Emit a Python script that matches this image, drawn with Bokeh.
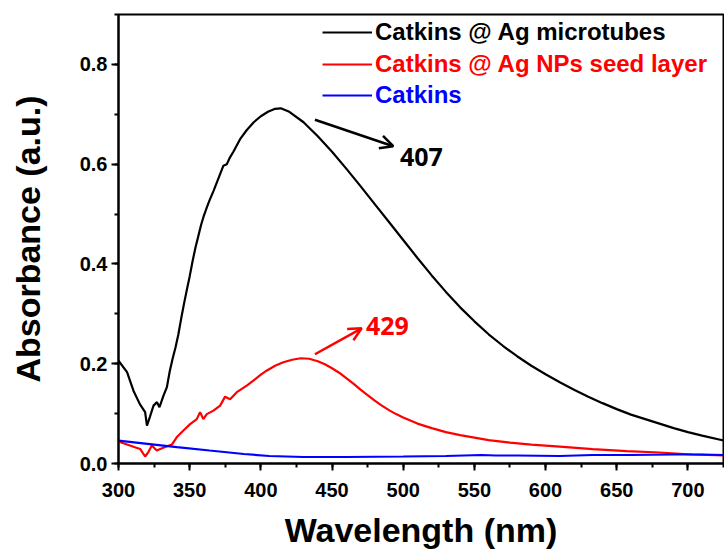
from bokeh.plotting import figure
from bokeh.models import (Range1d, SingleIntervalTicker, PrintfTickFormatter, Legend,
                          LegendItem, Arrow, OpenHead, ColumnDataSource)
from bokeh.core.properties import value
from bokeh.embed import file_html
from bokeh.resources import INLINE

# ---- data ----
wl_black = [300, 306, 310.5, 315, 318.7, 320, 322, 324.6, 327, 328.8, 331.6, 334, 336, 338,
            340, 342, 344, 346, 348, 350, 352, 354, 356, 358, 360, 362, 364, 366.7, 370, 373.7,
            376.1, 378, 380.7, 385.4, 390, 395, 400, 405, 410, 414, 420, 430, 440, 450, 460, 470,
            480, 490, 500, 510, 520, 530, 540, 550, 560, 570, 580, 590, 600, 610, 620, 630, 640,
            650, 660, 670, 680, 690, 700, 710, 725]
abs_black = [0.206, 0.183, 0.146, 0.119, 0.103, 0.076, 0.093, 0.116, 0.123, 0.113, 0.136, 0.153,
             0.185, 0.210, 0.232, 0.258, 0.290, 0.320, 0.348, 0.375, 0.405, 0.432, 0.455, 0.478,
             0.497, 0.513, 0.528, 0.546, 0.570, 0.597, 0.600, 0.612, 0.625, 0.650, 0.668, 0.684,
             0.696, 0.705, 0.711, 0.712, 0.705, 0.684, 0.656, 0.625, 0.591, 0.556, 0.520, 0.484,
             0.448, 0.412, 0.377, 0.344, 0.313, 0.285, 0.259, 0.236, 0.215, 0.196, 0.179, 0.163,
             0.148, 0.134, 0.121, 0.109, 0.098, 0.089, 0.080, 0.071, 0.063, 0.056, 0.046]

wl_red = [300, 304, 308, 312, 315.3, 318.7, 321, 323.4, 326.9, 329.3, 332.8, 337.5, 341, 345.6,
          350.3, 355, 357.3, 359.6, 362, 366.7, 371.4, 374.9, 378.4, 383.1, 390.1, 394.7, 400, 404,
          410, 415.8, 422, 428, 434, 440, 445, 450, 455, 460, 465, 470, 475, 480, 485, 490, 495,
          500, 505, 510, 520, 530, 540, 550, 560, 575, 590, 610, 633, 657, 680, 703, 725]
abs_red = [0.044, 0.040, 0.036, 0.032, 0.029, 0.014, 0.023, 0.036, 0.026, 0.029, 0.033, 0.038,
           0.053, 0.066, 0.079, 0.089, 0.103, 0.089, 0.099, 0.106, 0.116, 0.134, 0.129, 0.143,
           0.156, 0.166, 0.178, 0.186, 0.196, 0.203, 0.208, 0.211, 0.210, 0.205, 0.199, 0.191,
           0.182, 0.171, 0.160, 0.148, 0.137, 0.126, 0.116, 0.107, 0.099, 0.092, 0.086, 0.080,
           0.071, 0.063, 0.057, 0.052, 0.047, 0.042, 0.038, 0.034, 0.029, 0.025, 0.022, 0.018,
           0.016]

wl_blue = [300, 322, 341, 364, 388, 406, 430, 460, 500, 530, 555, 565, 580, 610, 633, 660, 690, 710, 725]
abs_blue = [0.046, 0.039, 0.033, 0.026, 0.019, 0.015, 0.013, 0.013, 0.014, 0.015, 0.017, 0.016,
            0.016, 0.015, 0.017, 0.017, 0.018, 0.018, 0.017]

series_names = ["Catkins @ Ag microtubes", "Catkins @ Ag NPs seed layer", "Catkins"]
series_colors = ["#000000", "#ff0000", "#0000ff"]

# peak annotations
peak_labels = ["407", "429"]
peak_colors = ["#000000", "#ff0000"]
label_x = [497.7, 473.8]
label_y = [0.615, 0.276]
arrow_x0 = [438.0, 438.0]
arrow_y0 = [0.689, 0.219]
arrow_x1 = [493.0, 470.8]
arrow_y1 = [0.636, 0.271]

FONT = "Liberation Sans"

p = figure(width=724, height=553, output_backend="svg", toolbar_location=None,
           x_range=Range1d(300, 725), y_range=Range1d(0, 0.9),
           min_border_left=118, min_border_right=1, min_border_top=14, min_border_bottom=90,
           background_fill_color="white", border_fill_color="white")

p.xgrid.visible = False
p.ygrid.visible = False
p.outline_line_color = "black"
p.outline_line_width = 2
p.outline_line_alpha = 1

p.xaxis.ticker = SingleIntervalTicker(interval=50, num_minor_ticks=2)
p.yaxis.ticker = SingleIntervalTicker(interval=0.2, num_minor_ticks=2)
p.yaxis.formatter = PrintfTickFormatter(format="%.1f")

for ax in (p.xaxis[0], p.yaxis[0]):
    ax.axis_line_width = 2
    ax.axis_line_color = "black"
    ax.major_tick_line_width = 2
    ax.minor_tick_line_width = 2
    ax.major_tick_out = 7
    ax.major_tick_in = 0
    ax.minor_tick_out = 4
    ax.minor_tick_in = 0
    ax.major_label_text_font = FONT
    ax.major_label_text_font_style = "bold"
    ax.major_label_text_font_size = "20px"
    ax.major_label_text_color = "black"
    ax.axis_label_text_font = FONT
    ax.axis_label_text_font_style = "bold"
    ax.axis_label_text_font_size = "34px"
    ax.axis_label_text_color = "black"

p.xaxis.axis_label = "Wavelength (nm)"
p.yaxis.axis_label = "Absorbance (a.u.)"
p.xaxis.major_label_standoff = 12
p.xaxis.axis_label_standoff = 11
p.yaxis.major_label_standoff = 4
p.yaxis.axis_label_standoff = 30

xs = [wl_black, wl_red, wl_blue]
ys = [abs_black, abs_red, abs_blue]
renderers = []
for x, y, c in zip(xs, ys, series_colors):
    renderers.append(p.line(x, y, line_color=c, line_width=2.2))

# legends: one per series so each label keeps its series colour
legend_y = [417, 385, 354]
for r, name, c, ly in zip(renderers, series_names, series_colors, legend_y):
    lg = Legend(items=[LegendItem(label=name, renderers=[r])], location=(204, ly),
                label_text_color=c, label_text_font=FONT, label_text_font_style="bold",
                label_text_font_size="24px", glyph_width=50, glyph_height=22,
                label_height=22, label_standoff=3, padding=0, margin=0, spacing=0,
                border_line_alpha=0, background_fill_alpha=0)
    p.add_layout(lg, "center")

# arrows and peak labels
for x0, y0, x1, y1, c in zip(arrow_x0, arrow_y0, arrow_x1, arrow_y1, peak_colors):
    p.add_layout(Arrow(end=OpenHead(size=13, line_width=2.5, line_color=c),
                       x_start=x0, y_start=y0, x_end=x1, y_end=y1,
                       line_color=c, line_width=2.5))

src = ColumnDataSource(dict(x=label_x, y=label_y, t=peak_labels, c=peak_colors))
p.text(x="x", y="y", text="t", text_color="c", source=src, text_font=value("Open Sans"),
       text_font_style="bold", text_font_size="25px", text_align="left",
       text_baseline="alphabetic")

open("out.html", "w").write(file_html(p, INLINE))
